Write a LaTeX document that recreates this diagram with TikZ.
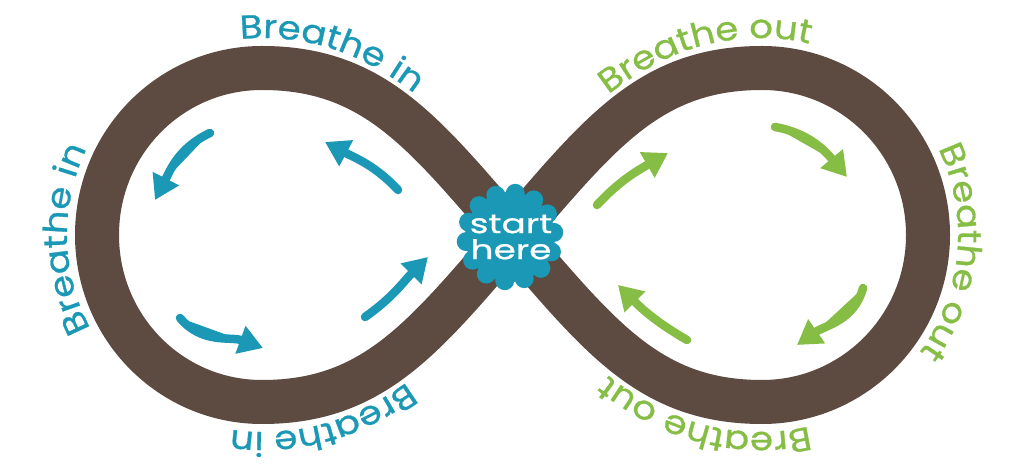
\documentclass[tikz,border=0pt]{standalone}
\usepackage{fontspec}
\setmainfont{Poppins}
\newfontfamily\loopfam{Poppins}[FakeStretch=1.12, FakeBold=0.8]
\newfontfamily\badgefam{Poppins}[FakeStretch=1.33, FakeBold=0.8]
\usetikzlibrary{arrows.meta,decorations.text,calc}
\definecolor{teal1}{HTML}{1A98B5}
\definecolor{green1}{HTML}{86BD45}
\definecolor{brown1}{HTML}{5D4A40}
\newcommand\loopfont{\loopfam\fontsize{33}{36}\selectfont}
\begin{document}
\begin{tikzpicture}[x=1pt,y=1pt,
  band/.style={draw=brown1, line width=44pt, line join=round},
  flow/.style={line width=8.5pt, line cap=round, -{Triangle[length=24pt,width=28pt]}},
  inarrow/.style={flow, draw=teal1, fill=teal1},
  outarrow/.style={flow, draw=green1, fill=green1},
  looptext/.style 2 args={decorate, decoration={text along path, text color=#1,
      text={|\loopfont|#2}, raise=0pt}},
  petal/.style={fill=teal1, draw=none}]
\fill[white] (0,0) rectangle (1024,473);
\useasboundingbox (0,0) rectangle (1024,473);
% key points of the figure eight (centre line of the band)
\coordinate (C) at (512,238);
\coordinate (RT) at (762,405);
\coordinate (RR) at (928,238);
\coordinate (RB) at (762,71);
\coordinate (LT) at (262,405);
\coordinate (LL) at (97,238);
\coordinate (LB) at (262,71);
\draw[band] (C) .. controls (600,340) and (650,405) .. (RT)
  .. controls (854,405) and (928,330) .. (RR)
  .. controls (928,146) and (854,71) .. (RB)
  .. controls (650,71) and (600,136) .. (C)
  .. controls (424,340) and (374,405) .. (LT)
  .. controls (170,405) and (97,330) .. (LL)
  .. controls (97,146) and (170,71) .. (LB)
  .. controls (374,71) and (424,136) .. (C);
% baselines of the texts, 30pt outside the centre line
\coordinate (LT') at (262,435);
\coordinate (LL') at (67,238);
\coordinate (LB') at (262,41);
\coordinate (CLu) at (535,257);
\coordinate (CLd) at (535,218);
\coordinate (RT') at (762,435);
\coordinate (RR') at (958,238);
\coordinate (RB') at (762,41);
\coordinate (CRu) at (489,257);
\coordinate (CRd) at (489,218);
% texts round the loops
\path[looptext={teal1}{Breathe in}, decoration={text align={center, left indent=114pt}}]
  (LL') .. controls (67,346.7) and (154.4,435) .. (LT') .. controls (374,435) and (447,360) .. (CLu);
\path[looptext={teal1}{Breathe in}, decoration={text align={center, right indent=8pt}}]
  (LB') .. controls (154.4,41) and (67,129.3) .. (LL') .. controls (67,346.7) and (154.4,435) .. (LT');
\path[looptext={teal1}{Breathe in}, decoration={text align={center, right indent=96pt}}]
  (CLd) .. controls (447,116) and (374,41) .. (LB') .. controls (154.4,41) and (67,129.3) .. (LL');
\path[looptext={green1}{Breathe out}, decoration={text align={center, right indent=90pt}}]
  (CRu) .. controls (577,360) and (650,435) .. (RT') .. controls (870.2,435) and (958,346.7) .. (RR');
\path[looptext={green1}{Breathe out}, decoration={text align={center, left indent=36pt}}]
  (RT') .. controls (870.2,435) and (958,346.7) .. (RR') .. controls (958,129.3) and (870.2,41) .. (RB');
\path[looptext={green1}{Breathe out}, decoration={text align={center, left indent=92pt}}]
  (RR') .. controls (958,129.3) and (870.2,41) .. (RB') .. controls (650,41) and (577,116) .. (CRd);
% arrows, left loop
\coordinate (a1) at (210,340); \coordinate (a2) at (155,273);
\coordinate (b1) at (398,283); \coordinate (b2) at (325,331);
\coordinate (c1) at (365,156); \coordinate (c2) at (428,216);
\coordinate (d1) at (180,155); \coordinate (d2) at (263,125);
\draw[inarrow] (a1) to[out=205,in=63] (a2);
\draw[inarrow] (b1) to[out=133,in=-28] (b2);
\draw[inarrow] (c1) to[out=35,in=225] (c2);
\draw[inarrow] (d1) to[out=-50,in=160] (d2);
% arrows, right loop
\coordinate (e1) at (597,268); \coordinate (e2) at (668,320);
\coordinate (f1) at (775,346); \coordinate (f2) at (847,296);
\coordinate (g1) at (863,185); \coordinate (g2) at (797,128);
\coordinate (h1) at (687,133); \coordinate (h2) at (618,188);
\draw[outarrow] (e1) to[out=47,in=210] (e2);
\draw[outarrow] (f1) to[out=-10,in=130] (f2);
\draw[outarrow] (g1) to[out=255,in=35] (g2);
\draw[outarrow] (h1) to[out=150,in=-45] (h2);
% scalloped badge
\coordinate (badge) at (510,236);
\fill[petal] (badge) circle (45);
\foreach \k in {0,...,13} {
  \fill[petal] ($(badge)+(\k*360/14+6:44)$) circle (9.5);
}
\node[text=white, align=center, font=\badgefam\fontsize{27}{26}\selectfont, inner sep=0pt] (start) at (511,236) {start\\here};
\end{tikzpicture}
\end{document}
